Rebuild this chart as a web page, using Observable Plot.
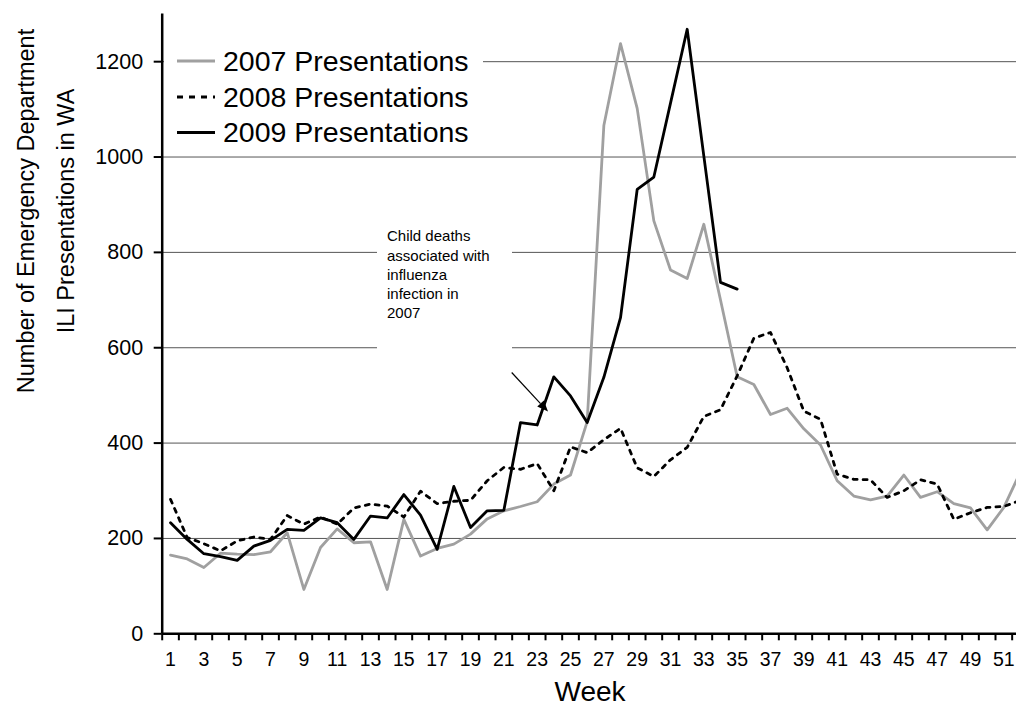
<!DOCTYPE html>
<html><head><meta charset="utf-8">
<script src="https://cdn.jsdelivr.net/npm/d3@7"></script>
<script src="https://cdn.jsdelivr.net/npm/@observablehq/plot@0.6"></script>
<style>
html,body{margin:0;padding:0;background:#fff;overflow:hidden;}
</style></head><body><div id="chart"></div>
<script>
const weeks = [1,2,3,4,5,6,7,8,9,10,11,12,13,14,15,16,17,18,19,20,21,22,23,24,25,26,27,28,29,30,31,32,33,34,35,36,37,38,39,40,41,42,43,44,45,46,47,48,49,50,51,52];
const presentations2007 = [165,157,139,169,167,166,172,212,93,181,220,191,193,93,240,163,179,188,209,241,258,267,277,314,333,445,1066,1238,1102,866,763,745,859,700,539,523,460,473,430,396,321,289,281,289,333,286,298,273,264,218,265,340];
const presentations2008 = [282,202,189,174,195,203,198,248,230,245,230,264,272,268,245,299,273,278,280,321,349,345,357,300,392,380,407,431,348,330,365,391,456,470,541,620,632,558,467,450,335,324,323,286,300,323,314,240,254,265,267,280];
const presentations2009 = [233,198,168,162,154,184,196,219,217,243,233,198,247,243,292,249,177,309,223,258,259,443,438,539,499,443,538,663,932,958,1113,1268,1002,737,723];
const yTicks = [0,200,400,600,800,1000,1200];
const xTickLabels = [1,3,5,7,9,11,13,15,17,19,21,23,25,27,29,31,33,35,37,39,41,43,45,47,49,51];
const xTickBoundaries = weeks.map(w => w - 0.5);
const seriesNames = ["2007 Presentations","2008 Presentations","2009 Presentations"];
const annotationLines = ["Child deaths","associated with","influenza","infection in","2007"];
const annotationArrow = {x1: 21.5, y1: 547, x2: 23.68, y2: 465};
const yTitleLines = ["Number of Emergency Department","ILI Presentations in WA"];
const xTitle = "Week";

const FONT = "'Liberation Sans', Arial, Helvetica, sans-serif";
const GRAY = "#a0a0a0";
const X_MAX = 51.76;

const rows = (vals) => vals.map((v, i) => ({week: weeks[i], value: v}));
const rows2007 = rows(presentations2007);
const rows2008 = rows(presentations2008);
const rows2009 = rows(presentations2009);

const legendStyles = [
  {stroke: GRAY, dash: null},
  {stroke: "#000", dash: "6,6"},
  {stroke: "#000", dash: null}
];

function whiteBoxes() {
  const g = d3.create("svg:g").attr("fill", "#fff");
  g.append("rect").attr("x", 164).attr("y", 40).attr("width", 319).attr("height", 108);
  g.append("rect").attr("x", 377).attr("y", 224).attr("width", 135).attr("height", 134);
  return g.node();
}

function legendMark() {
  const g = d3.create("svg:g").attr("font-family", FONT).attr("text-anchor", "start");
  const rowsY = [61, 97, 132.5];
  seriesNames.forEach((name, i) => {
    const s = legendStyles[i];
    const ln = g.append("line").attr("x1", 177).attr("x2", 215).attr("y1", rowsY[i]).attr("y2", rowsY[i])
      .attr("stroke", s.stroke).attr("stroke-width", 2.8);
    if (s.dash) ln.attr("stroke-dasharray", s.dash);
    g.append("text").attr("x", 223).attr("y", rowsY[i]).attr("dy", "0.35em")
      .attr("text-anchor", "start").attr("font-size", 28.5).attr("fill", "#000").text(name);
  });
  return g.node();
}

function annotationMark(index, {x, y}) {
  const g = d3.create("svg:g").attr("font-family", FONT).attr("text-anchor", "start");
  annotationLines.forEach((t, i) => {
    g.append("text").attr("x", 387).attr("y", 236 + i * 19.3).attr("dy", "0.35em")
      .attr("text-anchor", "start").attr("font-size", 15).attr("fill", "#000").text(t);
  });
  const ax1 = x(annotationArrow.x1), ay1 = y(annotationArrow.y1);
  const ax2 = x(annotationArrow.x2), ay2 = y(annotationArrow.y2);
  const ang = Math.atan2(ay2 - ay1, ax2 - ax1);
  const L = 11, W = 4.5;
  const bx = ax2 - L * Math.cos(ang), by = ay2 - L * Math.sin(ang);
  g.append("line").attr("x1", ax1).attr("y1", ay1).attr("x2", bx).attr("y2", by)
    .attr("stroke", "#000").attr("stroke-width", 1.2);
  const px = -Math.sin(ang), py = Math.cos(ang);
  g.append("path").attr("d", `M${ax2},${ay2}L${bx + W*px},${by + W*py}L${bx - W*px},${by - W*py}Z`).attr("fill", "#000");
  return g.node();
}

function titlesMark() {
  const g = d3.create("svg:g").attr("font-family", FONT).attr("fill", "#000");
  const cx = [26, 66];
  yTitleLines.forEach((t, i) => {
    g.append("text").attr("transform", `translate(${cx[i]},211) rotate(-90)`)
      .attr("text-anchor", "middle").attr("dy", "0.35em").attr("font-size", 23.5).text(t);
  });
  g.append("text").attr("x", 590).attr("y", 701).attr("text-anchor", "middle")
    .attr("font-size", 28).text(xTitle);
  return g.node();
}

const plot = Plot.plot({
  width: 1016, height: 707,
  marginLeft: 161.7, marginRight: 0, marginTop: 13.5, marginBottom: 73.7,
  style: {fontFamily: FONT, background: "#fff", color: "#000"},
  x: {type: "linear", domain: [0.5, X_MAX]},
  y: {domain: [0, 1300]},
  marks: [
    Plot.ruleY(yTicks.filter(d => d > 0), {x1: 0.5, x2: X_MAX, stroke: "#555", strokeWidth: 1}),
    whiteBoxes,
    Plot.line(rows2007, {x: "week", y: "value", stroke: GRAY, strokeWidth: 2.8, clip: true}),
    Plot.line(rows2008, {x: "week", y: "value", stroke: "#000", strokeWidth: 2.8, strokeDasharray: "4,6", clip: true}),
    Plot.line(rows2009, {x: "week", y: "value", stroke: "#000", strokeWidth: 2.8}),
    Plot.axisY({ticks: yTicks, tickFormat: d => String(d), tickSize: 8, tickPadding: 11, fontSize: 21.5, label: null, strokeWidth: 2}),
    Plot.axisX({ticks: xTickBoundaries, tickFormat: () => "", tickSize: 7, label: null, strokeWidth: 2}),
    Plot.axisX({ticks: xTickLabels, tickFormat: d => String(d), tickSize: 0, tickPadding: 18, fontSize: 19.5, label: null}),
    Plot.ruleX([0.5], {stroke: "#000", strokeWidth: 2.5}),
    Plot.ruleY([0], {x1: 0.5, x2: X_MAX, stroke: "#000", strokeWidth: 2.5}),
    annotationMark,
    legendMark,
    titlesMark
  ]
});
document.getElementById("chart").append(plot);
</script>
</body></html>
